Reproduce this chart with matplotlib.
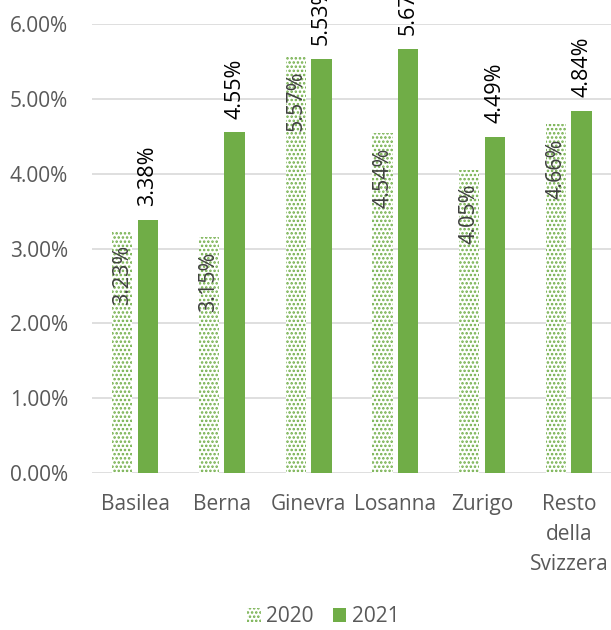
import matplotlib
matplotlib.use("Agg")
import matplotlib.pyplot as plt
import numpy as np

plt.rcParams['font.family'] = ['Open Sans', 'DejaVu Sans']
plt.rcParams['hatch.linewidth'] = 1.2

categories = ["Basilea", "Berna", "Ginevra", "Losanna", "Zurigo", "Resto\ndella\nSvizzera"]
series_names = ["2020", "2021"]
values_2020 = [3.23, 3.15, 5.57, 4.54, 4.05, 4.66]
values_2021 = [3.38, 4.55, 5.53, 5.67, 4.49, 4.84]
yticks = [0, 1, 2, 3, 4, 5, 6]

green = "#70AD47"
grid_c = "#D9D9D9"
text_c = "#595959"
tick_fs = 15
lab_fs = 15.5
leg_fs = 15

fig = plt.figure(figsize=(6.11, 6.30), dpi=100)
ax = fig.add_axes([0.150, 0.249, 0.852, 0.713])

x = np.arange(len(categories))
w = 0.235
gap = 0.06
off = (w + gap) / 2

b1 = ax.bar(x - off, values_2020, width=w, facecolor="white", edgecolor=green,
            hatch="....", linewidth=0, zorder=3, label=series_names[0])
b2 = ax.bar(x + off, values_2021, width=w, color=green, linewidth=0, zorder=3,
            label=series_names[1])

for xi, v in zip(x - off, values_2020):
    ax.annotate(f"{v:.2f}%", (xi, v), xytext=(0, -10), textcoords="offset points",
                rotation=90, ha="center", va="top", fontsize=lab_fs, color="#404040",
                zorder=5, annotation_clip=False)
for xi, v in zip(x + off, values_2021):
    ax.annotate(f"{v:.2f}%", (xi, v), xytext=(0, 10), textcoords="offset points",
                rotation=90, ha="center", va="bottom", fontsize=lab_fs, color="#000000",
                zorder=5, annotation_clip=False)

ax.set_ylim(0, 6)
ax.set_xlim(-0.5, len(categories) - 0.5)
ax.set_yticks(yticks)
ax.set_yticklabels([f"{t:.2f}%" for t in yticks], fontsize=tick_fs, color=text_c)
ax.set_xticks(x)
ax.set_xticklabels(categories, fontsize=tick_fs, color=text_c, linespacing=1.55, va="top")
ax.tick_params(axis="both", length=0)
ax.tick_params(axis="y", pad=17)
ax.tick_params(axis="x", pad=15)
ax.yaxis.grid(True, color=grid_c, linewidth=1.2, zorder=0)
for s in ax.spines.values():
    s.set_visible(False)

leg = fig.legend(handles=[b1, b2], labels=series_names, loc="center",
                 bbox_to_anchor=(0.529, 0.021), ncol=2, frameon=False,
                 fontsize=leg_fs, handlelength=0.67, handleheight=0.67,
                 handletextpad=0.25, columnspacing=0.9)
for t in leg.get_texts():
    t.set_color(text_c)

fig.savefig("out.png", dpi=100)
